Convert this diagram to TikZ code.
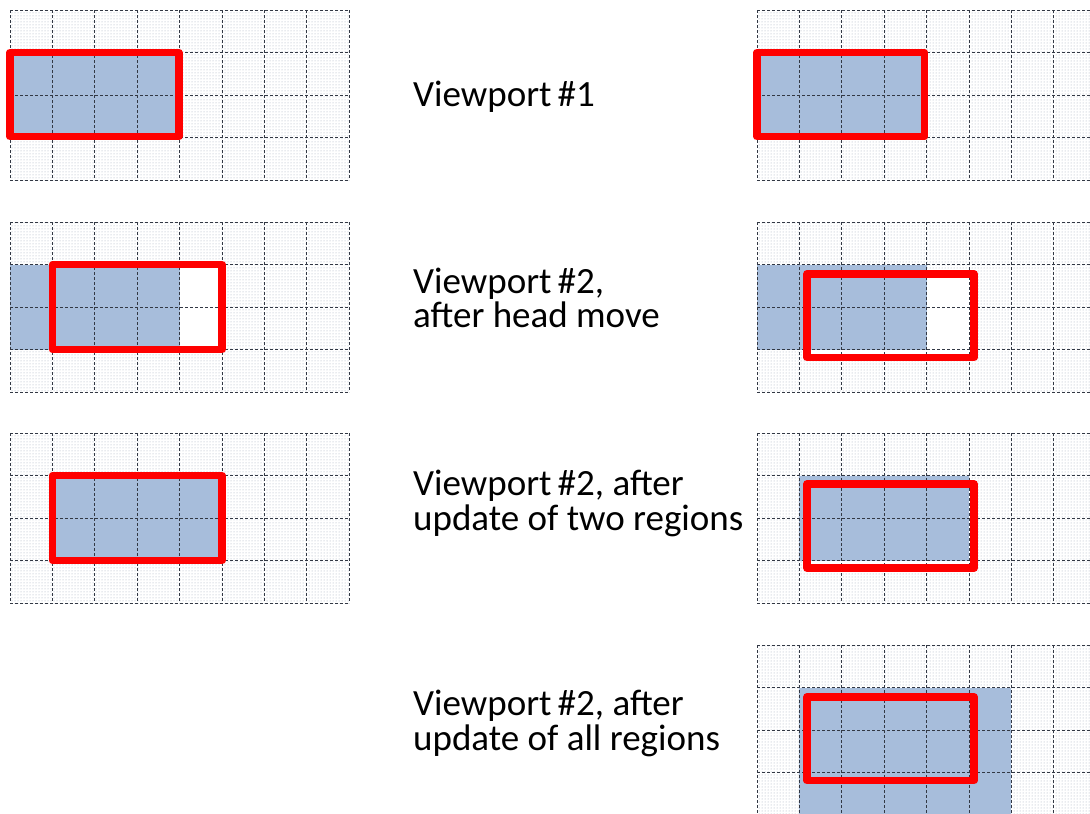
\documentclass[tikz,border=0pt]{standalone}
\usepackage{fontspec}
\setmainfont{Carlito}
\usetikzlibrary{patterns}
\definecolor{cellblue}{RGB}{167,189,219}
\definecolor{vpred}{RGB}{255,0,0}
\definecolor{gridcol}{RGB}{50,56,68}
\definecolor{dotcol}{RGB}{160,172,190}
\tikzset{
  gridstyle/.style={draw=gridcol, line width=1pt, dash pattern=on 3pt off 2pt},
  dotbg/.style={pattern=dots, pattern color=dotcol},
  vpframe/.style={draw=vpred, line width=7.5pt, line join=round},
  vpinside/.style={fill=white},
  labeltext/.style={anchor=base west, inner sep=0pt, font=\fontsize{37}{37}\selectfont, text=black}
}
% #1 origin (px), #2 blue rectangle (cells), #3 viewport rectangle (cells)
\newcommand\vppanel[3]{%
  \begin{scope}[shift={#1}, x=42.4pt, y=-42.5pt]
    \fill[dotbg] (0,0) rectangle (8,4);
    \fill[vpinside] #3;
    \fill[cellblue] #2;
    \foreach \i in {0,...,8} \draw[gridstyle] (\i,0) -- (\i,4);
    \foreach \j in {0,...,4} \draw[gridstyle] (0,\j) -- (8,\j);
    \draw[vpframe] #3;
  \end{scope}}
\begin{document}
\begin{tikzpicture}[x=1pt, y=-1pt]
  \useasboundingbox[fill=white] (0,0) rectangle (1090,814);
  % left column
  \vppanel{(10,10)}{(0,1) rectangle (4,3)}{(0,1) rectangle (3.98,2.98)}
  \vppanel{(10,222)}{(0,1) rectangle (4,3)}{(1,1) rectangle (5,3)}
  \vppanel{(10,433)}{(1,1) rectangle (5,3)}{(1,1) rectangle (5,3)}
  % right column
  \vppanel{(757,10)}{(0,1) rectangle (4,3)}{(0,1) rectangle (3.95,2.98)}
  \vppanel{(757,222)}{(0,1) rectangle (4,3)}{(1.18,1.22) rectangle (5.12,3.19)}
  \vppanel{(757,433)}{(1,1) rectangle (5,3)}{(1.18,1.2) rectangle (5.12,3.18)}
  \vppanel{(757,645)}{(1,1) rectangle (6,4)}{(1.18,1.22) rectangle (5.12,3.19)}
  % labels
  \node[labeltext] (t1) at (413,106) {Viewport\,\#1};
  \node[labeltext] (t2a) at (413,293) {Viewport\,\#2,};
  \node[labeltext] (t2b) at (413,327) {after head move};
  \node[labeltext] (t3a) at (413,495) {Viewport\,\#2, after};
  \node[labeltext] (t3b) at (413,530) {update of two regions};
  \node[labeltext] (t4a) at (413,715) {Viewport\,\#2, after};
  \node[labeltext] (t4b) at (413,750) {update of all regions};
\end{tikzpicture}
\end{document}
